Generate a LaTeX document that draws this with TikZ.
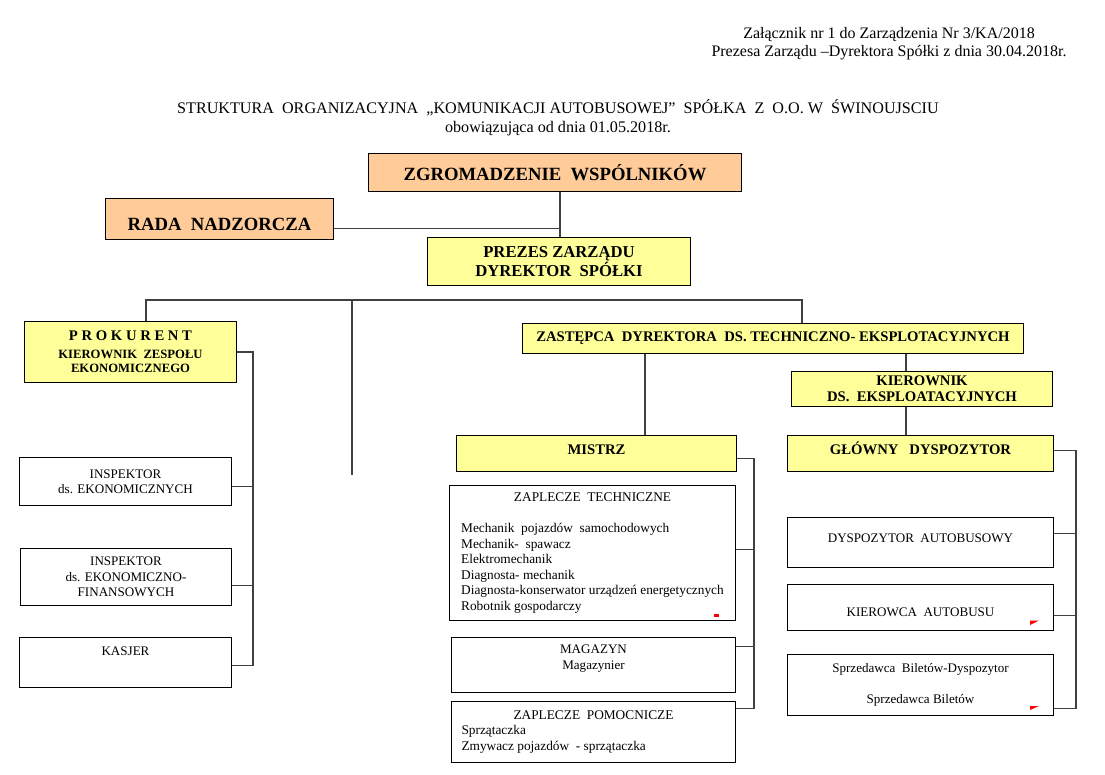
\documentclass[tikz,border=0pt]{standalone}
\usepackage{fontspec}
\setmainfont{Liberation Serif}
\usepackage{tikz}
\definecolor{peach}{HTML}{FFCC99}
\definecolor{lemon}{HTML}{FFFF99}
\definecolor{wiregray}{HTML}{404040}
\tikzset{
	every unit/.style={
		rectangle,
		draw,
		line width=0.75pt,
		anchor=north west,
		inner sep=2pt
	},
	board/.style={
		every unit,
		fill=peach,
		font=\bfseries\fontsize{14}{17}\selectfont
	},
	chief/.style={
		every unit,
		fill=lemon,
		align=center,
		font=\bfseries\fontsize{11}{12}\selectfont
	},
	post/.style={
		every unit,
		fill=white,
		align=center,
		font=\fontsize{9.8}{11.6}\selectfont
	},
}

\begin{document}
\begin{tikzpicture}[x=0.75pt,y=-0.75pt]
\tikzset{link/.style={
		draw=wiregray,
		line width=0.9pt}}

\useasboundingbox (0,0) rectangle (1105,774);

% headings
\node[align=center, font=\fontsize{12}{13.5}\selectfont] (annex) at (889,44) {Załącznik nr 1 do Zarządzenia Nr 3/KA/2018\\Prezesa Zarządu –Dyrektora Spółki z dnia 30.04.2018r.};
\node[align=center, font=\fontsize{12.1}{14.25}\selectfont] (title) at (558,117.5) {STRUKTURA~~ORGANIZACYJNA~~„KOMUNIKACJI AUTOBUSOWEJ”~~SPÓŁKA~~Z~~O.O.~W~~ŚWINOUJSCIU\\obowiązująca od dnia 01.05.2018r.};

% board and management
\node[board, minimum width=279.75pt, minimum height=28.5pt] (assembly) at (368,153) {ZGROMADZENIE~~WSPÓLNIKÓW};
\node[board, minimum width=171pt, minimum height=30.75pt, text height=17.5pt, text depth=0pt] (council) at (105,198) {RADA~~NADZORCZA};
\node[chief, minimum width=197.25pt, minimum height=36pt, font=\bfseries\fontsize{12.5}{14.25}\selectfont] (president) at (427,237) {PREZES ZARZĄDU\\DYREKTOR~~SPÓŁKI};
	\node[chief, minimum width=159pt, minimum height=45.75pt, font=\bfseries\fontsize{9.5}{10.5}\selectfont] (proxy) at (24,321) {{\fontsize{11}{13}\selectfont P R O K U R E N T}\\[3pt]KIEROWNIK~~ZESPOŁU\\EKONOMICZNEGO};
	\node[chief, minimum width=375.75pt, minimum height=22.5pt] (deputy) at (522,323) {ZASTĘPCA~~DYREKTORA~~DS. TECHNICZNO- EKSPLOTACYJNYCH};
		\node[chief, minimum width=195.75pt, minimum height=26.25pt] (operations) at (791,371) {KIEROWNIK\\DS.~~EKSPLOATACYJNYCH};
		\node[chief, minimum width=210pt, minimum height=27pt, text height=7.3pt, text depth=6pt] (foreman) at (456,435) {MISTRZ};
		\node[chief, minimum width=199.5pt, minimum height=27pt, text height=7.3pt, text depth=6pt] (dispatcher) at (787,435) {GŁÓWNY~~~DYSPOZYTOR};

% economic team
\node[post, minimum width=159pt, minimum height=36pt] (inspector) at (19,457) {INSPEKTOR\\ds. EKONOMICZNYCH};
\node[post, minimum width=158.25pt, minimum height=42.75pt] (finance) at (20,548) {INSPEKTOR\\ds. EKONOMICZNO-\\FINANSOWYCH};
\node[post, minimum width=159pt, minimum height=37.5pt, text height=6.3pt, text depth=16.5pt] (cashier) at (19,637) {KASJER};

% technical team
\node[post, minimum width=214.5pt, minimum height=101.25pt, align=left, font=\fontsize{10}{11.6}\selectfont] (workshop) at (449,485) {\makebox[197pt][c]{ZAPLECZE~~TECHNICZNE}\\[11.6pt]Mechanik~~pojazdów~~samochodowych\\Mechanik-~~spawacz\\Elektromechanik\\Diagnosta- mechanik\\Diagnosta-konserwator urządzeń energetycznych\\Robotnik gospodarczy};
\node[post, minimum width=213pt, minimum height=41.25pt] (store) at (451,637) {MAGAZYN\\Magazynier\\\mbox{}};
\node[post, minimum width=213pt, minimum height=45.75pt, align=left, font=\fontsize{10}{11.6}\selectfont] (auxiliary) at (451,701) {\makebox[198pt][c]{ZAPLECZE~~POMOCNICZE}\\Sprzątaczka\\Zmywacz pojazdów~~- sprzątaczka};

% dispatch team
\node[post, minimum width=199.5pt, minimum height=37.5pt, text height=6.3pt, text depth=6pt] (busdispatch) at (787,517) {DYSPOZYTOR~~AUTOBUSOWY};
\node[post, minimum width=199.5pt, minimum height=34.5pt, text height=13.8pt, text depth=0pt] (driver) at (787,584) {KIEROWCA~~AUTOBUSU};
\node[post, minimum width=199.5pt, minimum height=45.75pt] (tickets) at (787,654) {Sprzedawca~~Biletów-Dyspozytor\\[11.6pt]Sprzedawca Biletów};

\coordinate (trunk) at (560,200);
\coordinate (busL) at (146,300);
\coordinate (busM) at (352,300);
\coordinate (busR) at (802,300);
\coordinate (busEnd) at (352,475);
\coordinate (tapA) at (645,400);
\coordinate (tapB) at (906,400);
\coordinate (spineP) at (253,0);
\coordinate (spineM) at (754,0);
\coordinate (spineD) at (1076,0);

\draw[link] (assembly.south -| trunk) -- (president.north -| trunk);
\draw[link] ([yshift=-7pt]council.east) -- ([yshift=-7pt]council.east -| trunk);
\draw[link] (proxy.north -| busL) -- (busL) -- (busR) -- (deputy.north -| busR);
\draw[link] (busM) -- (busEnd);
\draw[link] (deputy.south -| tapA) -- (foreman.north -| tapA);
\draw[link] (deputy.south -| tapB) -- (operations.north -| tapB);
\draw[link] (operations.south -| tapB) -- (dispatcher.north -| tapB);

\draw[link] (proxy.east) -| ([yshift=-2.25pt]cashier.east -| spineP) -- ([yshift=-2.25pt]cashier.east);
\draw[link] ([yshift=-3.75pt]inspector.east) -- ([yshift=-3.75pt]inspector.east -| spineP);
\draw[link] ([yshift=-6.4pt]finance.east) -- ([yshift=-6.4pt]finance.east -| spineP);

\draw[link] ([yshift=-3.75pt]foreman.east) -| ([yshift=17.6pt]auxiliary.east -| spineM) -- ([yshift=17.6pt]auxiliary.east);
\draw[link] ([yshift=2.6pt]workshop.east) -- ([yshift=2.6pt]workshop.east -| spineM);
\draw[link] ([yshift=13.9pt]store.east) -- ([yshift=13.9pt]store.east -| spineM);

\draw[link] ([yshift=2.25pt]dispatcher.east) -| ([yshift=-17.6pt]tickets.east -| spineD) -- ([yshift=-17.6pt]tickets.east);
\draw[link] ([yshift=6.75pt]busdispatch.east) -- ([yshift=6.75pt]busdispatch.east -| spineD);
\draw[link] ([yshift=-6pt]driver.east) -- ([yshift=-6pt]driver.east -| spineD);

% red markers
\fill[red] (714,614) rectangle (719,616.5);
\fill[red] (1030,620.5) -- (1039,620.5) -- (1030,625) -- cycle;
\fill[red] (1030,706) -- (1039,706) -- (1030,710) -- cycle;

\end{tikzpicture}
\end{document}
